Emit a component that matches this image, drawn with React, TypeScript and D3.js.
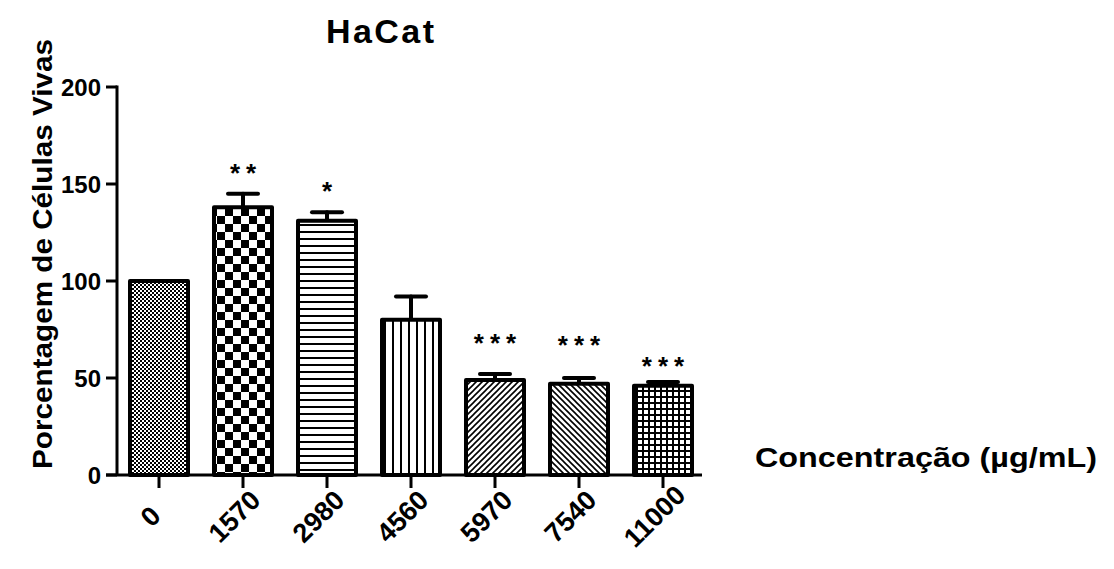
import React from "react";
import * as d3 from "d3";

const categories = ["0", "1570", "2980", "4560", "5970", "7540", "11000"];
const means = [100, 138, 131, 80, 49, 47, 46];
const errors = [0, 7, 4.5, 12, 3, 3, 2];
const stars = ["", "**", "*", "", "***", "***", "***"];
// vertical placement of the significance marks, in data units
const starLevels = [0, 159, 149.5, 0, 71, 70, 59.5];
const yTicks = [0, 50, 100, 150, 200];
const patternIds = ["fineCheck", "bigCheck", "hLines", "vLines", "diagUp", "diagDown", "grid"];

const W = 1114;
const H = 569;
const FONT = "'Liberation Sans', Arial, sans-serif";

export default function App() {
  const y = d3.scaleLinear().domain([0, 200]).range([475, 87]);
  const x = d3.scalePoint<string>().domain(categories).range([159, 663]);
  const barW = 58;
  const axisX = 117;
  const base = y(0);

  return (
    <svg
      width={W}
      height={H}
      style={{ position: "absolute", left: 0, top: 0, background: "#fff" }}
      fontFamily={FONT}
    >
      <defs>
        <pattern id="fineCheck" width={4} height={4} patternUnits="userSpaceOnUse">
          <rect width={4} height={4} fill="#fff" />
          <rect width={2} height={2} fill="#000" />
          <rect x={2} y={2} width={2} height={2} fill="#000" />
        </pattern>
        <pattern id="bigCheck" width={16} height={16} patternUnits="userSpaceOnUse" x={1} y={0}>
          <rect width={16} height={16} fill="#fff" />
          <rect width={8} height={8} fill="#000" />
          <rect x={8} y={8} width={8} height={8} fill="#000" />
        </pattern>
        <pattern id="hLines" width={8} height={7} patternUnits="userSpaceOnUse">
          <rect width={8} height={7} fill="#fff" />
          <rect y={0} width={8} height={2} fill="#000" />
        </pattern>
        <pattern id="vLines" width={8} height={8} patternUnits="userSpaceOnUse">
          <rect width={8} height={8} fill="#fff" />
          <rect x={0} width={2} height={8} fill="#000" />
        </pattern>
        <pattern id="diagUp" width={6} height={6} patternUnits="userSpaceOnUse">
          <rect width={6} height={6} fill="#fff" />
          <path d="M-1,1 L1,-1 M0,6 L6,0 M5,7 L7,5" stroke="#000" strokeWidth={1.6} />
        </pattern>
        <pattern id="diagDown" width={6} height={6} patternUnits="userSpaceOnUse">
          <rect width={6} height={6} fill="#fff" />
          <path d="M-1,5 L1,7 M0,0 L6,6 M5,-1 L7,1" stroke="#000" strokeWidth={1.6} />
        </pattern>
        <pattern id="grid" width={6} height={6} patternUnits="userSpaceOnUse">
          <rect width={6} height={6} fill="#fff" />
          <rect width={2} height={6} fill="#000" />
          <rect width={6} height={2} fill="#000" />
        </pattern>
      </defs>

      {/* title */}
      <text x={380} y={43} textAnchor="middle" fontSize={34} fontWeight="bold" textLength={108}>
        HaCat
      </text>

      {/* y axis title */}
      <text
        transform={`translate(52, 254) rotate(-90)`}
        textAnchor="middle"
        fontSize={28}
        fontWeight="bold"
        textLength={430}
        lengthAdjust="spacingAndGlyphs"
      >
        Porcentagem de Células Vivas
      </text>

      {/* x axis title */}
      <text
        x={755}
        y={467}
        fontSize={27}
        fontWeight="bold"
        textLength={342}
        lengthAdjust="spacingAndGlyphs"
      >
        Concentração (µg/mL)
      </text>

      {/* bars */}
      {categories.map((c, i) => {
        const cx = x(c)!;
        const top = y(means[i]);
        const capY = y(means[i] + errors[i]);
        return (
          <g key={c}>
            {errors[i] > 0 && (
              <g stroke="#000" strokeWidth={4} strokeLinecap="round">
                <line x1={cx} x2={cx} y1={top} y2={capY} />
                <line x1={cx - 15} x2={cx + 15} y1={capY} y2={capY} />
              </g>
            )}
            <rect
              x={cx - barW / 2}
              y={top}
              width={barW}
              height={base - top}
              fill={`url(#${patternIds[i]})`}
              stroke="#000"
              strokeWidth={4}
              strokeLinejoin="round"
            />
            {stars[i] && (
              <text
                x={cx + 3}
                y={y(starLevels[i]) + 15}
                textAnchor="middle"
                fontSize={26}
                fontWeight="bold"
                letterSpacing={6}
              >
                {stars[i]}
              </text>
            )}
          </g>
        );
      })}

      {/* y axis */}
      <g stroke="#000" strokeWidth={3}>
        <line x1={axisX} x2={axisX} y1={y(200) - 1.5} y2={base} />
        {yTicks.map((t) => (
          <line key={t} x1={axisX - 11} x2={axisX} y1={y(t)} y2={y(t)} />
        ))}
      </g>
      {yTicks.map((t) => (
        <text key={t} x={101} y={y(t) + 9} textAnchor="end" fontSize={24} fontWeight="bold">
          {t}
        </text>
      ))}

      {/* x axis */}
      <g stroke="#000" strokeWidth={3}>
        <line x1={axisX - 11} x2={702} y1={base} y2={base} />
        {categories.map((c) => (
          <line key={c} x1={x(c)!} x2={x(c)!} y1={base} y2={base + 13} />
        ))}
      </g>
      {categories.map((c) => (
        <text
          key={c}
          transform={`translate(${x(c)! - 2}, ${base + 48}) rotate(-45)`}
          textAnchor="middle"
          fontSize={27}
          fontWeight="bold"
        >
          {c}
        </text>
      ))}
    </svg>
  );
}
